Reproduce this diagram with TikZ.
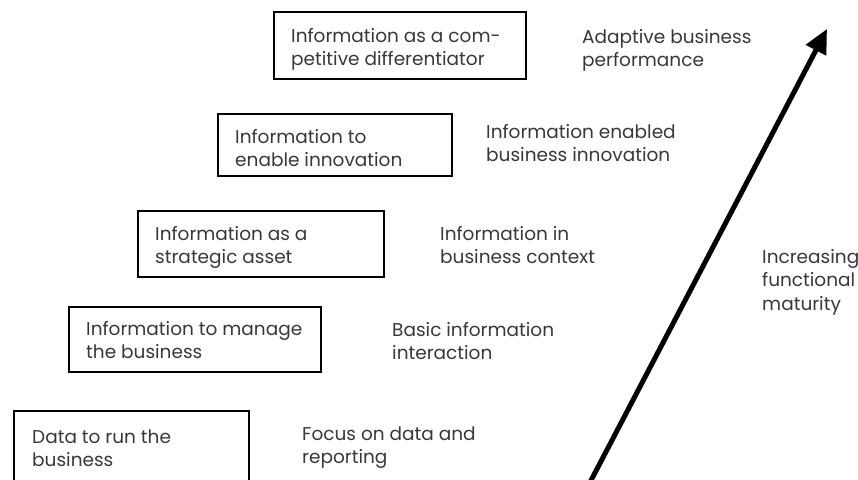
\documentclass[tikz,border=0pt]{standalone}
\usepackage{fontspec}
\setmainfont{Poppins}
\usetikzlibrary{arrows.meta}
\definecolor{txt}{RGB}{55,55,62}
\begin{document}
\begin{tikzpicture}[x=1pt,y=-1pt,
  every node/.style={font=\fontsize{18.5}{23.5}\selectfont, text=txt},
  box/.style={draw=black, line width=2.4pt, anchor=north west, inner sep=0pt},
  lbl/.style={anchor=base west, align=left, inner sep=0pt}]
\useasboundingbox (0,0) rectangle (858,479);
% boxes
\node[box, minimum width=252pt, minimum height=67pt] (b5) at (273,11) {};
\node[box, minimum width=234pt, minimum height=62pt] (b4) at (217,113) {};
\node[box, minimum width=246pt, minimum height=66pt] (b3) at (137,210) {};
\node[box, minimum width=252pt, minimum height=65pt] (b2) at (68,306) {};
\node[box, minimum width=235pt, minimum height=80pt] (b1) at (13,410) {};
% box texts (positions are the baseline of the last line)
\node[lbl] (t5) at (291,65.5) {Information as a com-\\petitive differentiator};
\node[lbl] (t4) at (235,166.5) {Information to\\enable innovation};
\node[lbl] (t3) at (155,263.5) {Information as a\\strategic asset};
\node[lbl] (t2) at (86,358.5) {Information to manage\\the business};
\node[lbl] (t1) at (32,466.5) {Data to run the\\business};
% labels
\node[lbl] (l5) at (582,66.5) {Adaptive business\\performance};
\node[lbl] (l4) at (486,161.5) {Information enabled\\business innovation};
\node[lbl] (l3) at (440,263.5) {Information in\\business context};
\node[lbl] (l2) at (392,359.5) {Basic information\\interaction};
\node[lbl] (l1) at (302,463.5) {Focus on data and\\reporting};
\node[lbl] (l0) at (762,310) {Increasing\\functional\\maturity};
% arrow
\coordinate (as) at (586,490);
\coordinate (ae) at (827,29);
\draw[line width=5pt, -{Triangle[length=24pt,width=22pt]}] (as) -- (ae);
\end{tikzpicture}
\end{document}
